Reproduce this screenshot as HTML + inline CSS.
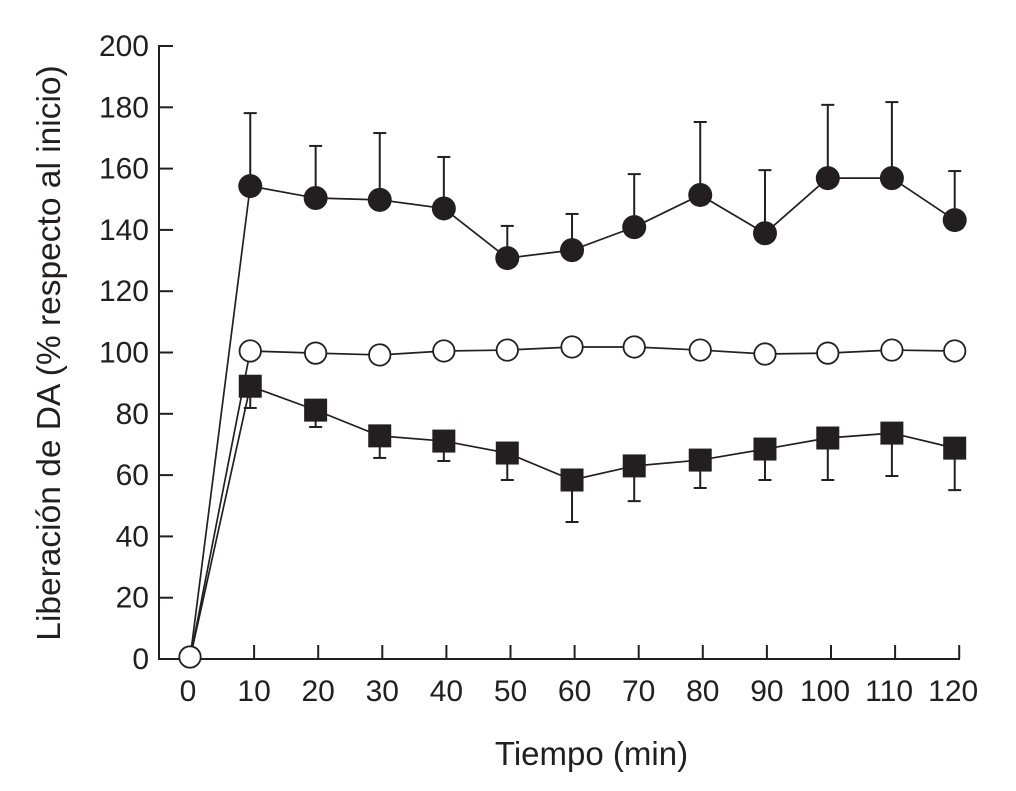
<!DOCTYPE html>
<html lang="es">
<head>
<meta charset="utf-8">
<title>Liberación de DA</title>
<style>
html,body{margin:0;padding:0;background:#fff;width:1016px;height:791px;overflow:hidden}
svg{display:block}
text{font-family:"Liberation Sans",Arial,sans-serif;fill:#231f20}
</style>
</head>
<body>
<svg id="chart" width="1016" height="791" viewBox="0 0 1016 791" xmlns="http://www.w3.org/2000/svg">
<text x="591.5" y="765" font-size="33" text-anchor="middle">Tiempo (min)</text>
<text transform="translate(60,353) rotate(-90)" font-size="33.5" text-anchor="middle">Liberación de DA (% respecto al inicio)</text>
</svg>
<script>
const xTicks = [10,20,30,40,50,60,70,80,90,100,110,120];
const xLabels = ["0","10","20","30","40","50","60","70","80","90","100","110","120"];
const xLabelTimes = [0,10,20,30,40,50,60,70,80,90,100,110,120];
const yTicks = [0,20,40,60,80,100,120,140,160,180,200];
const times = [9.4,19.6,29.6,39.6,49.5,59.6,69.3,79.6,89.7,99.5,109.5,119.3];
const filledValues = [154.3,150.4,149.8,147,130.8,133.4,140.9,151.4,138.9,156.9,156.9,143.2];
const filledErrorTops = [178.1,167.4,171.6,163.8,141.3,145.2,158.2,175.2,159.5,180.8,181.7,159.2];
const openValues = [100.5,99.8,99.2,100.5,100.8,101.8,101.8,100.8,99.5,99.8,100.8,100.5];
const squareValues = [89,81.2,72.8,71.1,67.2,58.4,63,64.9,68.5,72.1,73.7,68.8];
const squareErrorBottoms = [81.9,75.7,65.6,64.6,58.4,44.7,51.5,55.8,58.4,58.4,59.7,55.1];
const originTime = 0;
const originValue = 0;

const INK = '#231f20';
const svg = document.getElementById('chart');
const NS = 'http://www.w3.org/2000/svg';
const xScale = t => 190 + 6.41 * t;
const yScale = v => 659 - 3.065 * v;

function add(tag, attrs, text) {
  const el = document.createElementNS(NS, tag);
  for (const k in attrs) el.setAttribute(k, attrs[k]);
  if (text !== undefined) el.textContent = text;
  svg.appendChild(el);
  return el;
}

let el;
el = add('line', {x1:159, y1:yScale(200) - 1, x2:159, y2:yScale(0) + 1, stroke:INK, 'stroke-width':2});


el = add('line', {x1:158, y1:yScale(0), x2:960, y2:yScale(0), stroke:INK, 'stroke-width':2});



yTicks.forEach(v => {
  const y = yScale(v);
  const t = add('line', {x1:159, y1:y, x2:173, y2:y, stroke:INK, 'stroke-width':2});
  
  
  const l = add('text', {x:149, y:y + 10, 'font-size':30, 'text-anchor':'end'}, String(v));
  
  
});
xTicks.forEach(v => {
  const x = xScale(v);
  const t = add('line', {x1:x, y1:yScale(0), x2:x, y2:645, stroke:INK, 'stroke-width':2});
  
  
});
xLabels.forEach((s, i) => {
  const t = xLabelTimes[i];
  const shift = t >= 100 ? -6 : (t === 0 ? -2 : 0);
  const l = add('text', {x:xScale(t) + shift, y:701, 'font-size':30, 'text-anchor':'middle'}, s);
  
  
});

function polyline(values) {
  const pts = [[xScale(originTime), yScale(originValue)]];
  values.forEach((v, i) => pts.push([xScale(times[i]), yScale(v)]));
  return pts.map(p => p.join(',')).join(' ');
}
function errorBar(i, from, to) {
  const x = xScale(times[i]);
  const s = add('line', {x1:x, y1:yScale(from), x2:x, y2:yScale(to), stroke:INK, 'stroke-width':2});
  
  
  const c = add('line', {x1:x - 6.5, y1:yScale(to), x2:x + 6.5, y2:yScale(to), stroke:INK, 'stroke-width':2});
  
  
}

filledValues.forEach((v, i) => errorBar(i, v, filledErrorTops[i]));
squareValues.forEach((v, i) => errorBar(i, v, squareErrorBottoms[i]));

el = add('polyline', {points:polyline(filledValues), fill:'none', stroke:INK, 'stroke-width':1.7});


el = add('polyline', {points:polyline(squareValues), fill:'none', stroke:INK, 'stroke-width':1.7});


el = add('polyline', {points:polyline(openValues), fill:'none', stroke:INK, 'stroke-width':1.7});



filledValues.forEach((v, i) => {
  const m = add('circle', {cx:xScale(times[i]), cy:yScale(v), r:12, fill:INK});
  
  
});
squareValues.forEach((v, i) => {
  const m = add('rect', {x:xScale(times[i]) - 11.5, y:yScale(v) - 11.5, width:23, height:23, fill:INK});
  
  
});
openValues.forEach((v, i) => {
  const m = add('circle', {cx:xScale(times[i]), cy:yScale(v), r:10.7, fill:'#fff', stroke:INK, 'stroke-width':1.8});
  
  
});
el = add('circle', {cx:xScale(originTime), cy:yScale(originValue) - 2, r:10.7, fill:'#fff', stroke:INK, 'stroke-width':1.8});


</script>
</body>
</html>
